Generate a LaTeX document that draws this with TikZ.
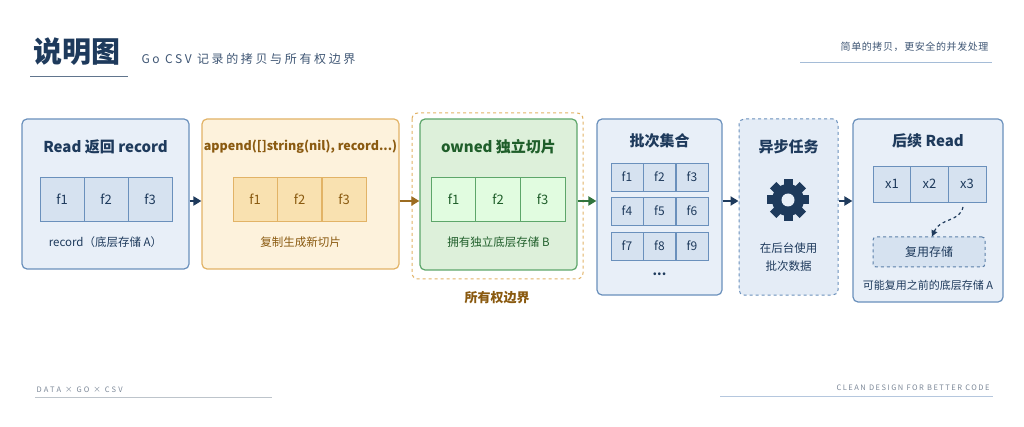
\documentclass[tikz,border=0pt]{standalone}
\usepackage{fontspec}
\setmainfont{Noto Sans CJK SC}
\usetikzlibrary{arrows.meta}
\definecolor{navy}{HTML}{1E3A5C}
\definecolor{bborder}{HTML}{6A90BC}
\definecolor{bfill}{HTML}{E8EFF8}
\definecolor{cfill}{HTML}{D6E2F0}
\definecolor{oborder}{HTML}{E2B366}
\definecolor{ofill}{HTML}{FDF2DC}
\definecolor{ocell}{HTML}{F9E1B0}
\definecolor{otext}{HTML}{8A5A10}
\definecolor{gborder}{HTML}{5DA66A}
\definecolor{gfill}{HTML}{DDF0DA}
\definecolor{gtext}{HTML}{1F5E2A}
\definecolor{grey}{HTML}{7C8898}
\tikzset{
 panel/.style={draw=#1,line width=1.2pt,rounded corners=5pt},
 cell/.style={draw=#1,line width=0.7pt,minimum height=44pt,minimum width=44pt,inner sep=0pt,font=\fontsize{13}{13}\selectfont},
 ttl/.style={font=\fontsize{15}{15}\selectfont\bfseries},
 lbl/.style={font=\fontsize{11.5}{12}\selectfont},
 arr/.style={-{Triangle[length=8pt,width=9pt]},line width=2.2pt,draw=#1},
 g/.style={cell=bborder,fill=cfill,minimum height=28pt,minimum width=32.3pt,font=\fontsize{12}{12}\selectfont,text=navy}
}
\begin{document}
\begin{tikzpicture}[x=1pt,y=-1pt]
\useasboundingbox[fill=white] (0,0) rectangle (1024,427);
% header
\node[anchor=west,font=\fontsize{29}{29}\selectfont\bfseries,text=navy] (title) at (30,52) {说明图};
\node[anchor=west,font=\fontsize{12}{12}\selectfont,text=navy!85] (sub) at (138,59) {\addfontfeature{LetterSpace=22}Go CSV 记录的拷贝与所有权边界};
\draw[navy!70,line width=1pt] (30,77) -- (128,77);
\node[anchor=east,font=\fontsize{10}{10}\selectfont,text=navy!85] (tr) at (992,47) {\addfontfeature{LetterSpace=6}简单的拷贝，更安全的并发处理};
\draw[bborder!60,line width=0.8pt] (800,62) -- (992,62);
% box1
\node[panel=bborder,fill=bfill,minimum width=167pt,minimum height=150pt] (b1) at (105.5,194) {};
\node[ttl,text=navy] (t1) at (105.5,147) {Read 返回 record};
\node[cell=bborder,fill=cfill,text=navy] (a1) at (62,199) {f1};
\node[cell=bborder,fill=cfill,text=navy] (a2) at (106,199) {f2};
\node[cell=bborder,fill=cfill,text=navy] (a3) at (150,199) {f3};
\node[lbl,text=navy] (l1) at (105.5,242) {record（底层存储 A）};
% box2
\node[panel=oborder,fill=ofill,minimum width=197pt,minimum height=150pt] (b2) at (300.5,194) {};
\node[text=otext,font=\fontsize{12.5}{13}\selectfont\bfseries] (t2) at (300.5,147) {append([]string(nil), record...)};
\node[cell=oborder,fill=ocell,text=otext] (c1) at (255,199) {f1};
\node[cell=oborder,fill=ocell,text=otext] (c2) at (299.5,199) {f2};
\node[cell=oborder,fill=ocell,text=otext] (c3) at (344,199) {f3};
\node[lbl,text=otext] (l2) at (300.5,242) {复制生成新切片};
% box3
\draw[oborder,dashed,line width=1pt,rounded corners=6pt] (412,113) rectangle (583,279);
\node[panel=gborder,fill=gfill,minimum width=157pt,minimum height=151pt] (b3) at (498.5,194.5) {};
\node[ttl,text=gtext] (t3) at (498.5,147) {owned 独立切片};
\node[cell=gborder,fill=gfill!70!green!30,text=gtext,minimum width=44.7pt] (d1) at (453.5,199) {f1};
\node[cell=gborder,fill=gfill!70!green!30,text=gtext,minimum width=44.7pt] (d2) at (498,199) {f2};
\node[cell=gborder,fill=gfill!70!green!30,text=gtext,minimum width=44.7pt] (d3) at (542.5,199) {f3};
\node[lbl,text=gtext] (l3) at (498.5,242) {拥有独立底层存储 B};
\node[font=\fontsize{13}{13}\selectfont\bfseries,text=otext] (own) at (497,298) {所有权边界};
% box4
\node[panel=bborder,fill=bfill,minimum width=125pt,minimum height=176pt] (b4) at (659.5,207) {};
\node[ttl,text=navy] (t4) at (659.5,141) {批次集合};
\foreach \r/\y in {0/177,1/211,2/246}{
 \foreach \c/\x in {1/627,2/659.5,3/692}{
  \pgfmathtruncatemacro\n{\r*3+\c}
  \node[g] (e\n) at (\x,\y) {f\n};
 }}
\node[font=\fontsize{13}{13}\selectfont\bfseries,text=navy] (dots) at (659.5,274) {...};
% box5
\node[draw=bborder,dashed,line width=1pt,rounded corners=5pt,fill=bfill!80!cfill,minimum width=99pt,minimum height=176pt] (b5) at (788.5,207) {};
\node[ttl,text=navy] (t5) at (788.5,147) {异步任务};
\begin{scope}[shift={(788,200)}]
 \foreach \a in {0,45,...,315}{\fill[navy,rotate=\a] (-4.5,-21) rectangle (4.5,-12);}
 \fill[navy] (0,0) circle (16);
 \fill[bfill] (0,0) circle (6.5);
\end{scope}
\node[lbl,text=navy] (l5a) at (788.5,248) {在后台使用};
\node[lbl,text=navy] (l5b) at (788.5,266) {批次数据};
% box6
\node[panel=bborder,fill=bfill,minimum width=150pt,minimum height=183pt] (b6) at (928,210.5) {};
\node[ttl,text=navy] (t6) at (928,141) {后续 Read};
\node[cell=bborder,fill=cfill,text=navy,minimum width=37.7pt,minimum height=36pt] (x1) at (892,184) {x1};
\node[cell=bborder,fill=cfill,text=navy,minimum width=37.7pt,minimum height=36pt] (x2) at (929.5,184) {x2};
\node[cell=bborder,fill=cfill,text=navy,minimum width=37.7pt,minimum height=36pt] (x3) at (967,184) {x3};
\node[draw=bborder!80!navy,dashed,line width=1pt,rounded corners=3pt,fill=cfill,minimum width=112pt,minimum height=30pt,font=\fontsize{12}{12}\selectfont,text=navy] (reuse) at (929,252) {复用存储};
\coordinate (cs) at (963,207);
\draw[dashed,navy,line width=1.2pt,-{Triangle[length=6pt,width=6pt]}] (cs) .. controls (960,222) and (940,218) .. (reuse.north-|932,0);
\node[font=\fontsize{11}{11}\selectfont,text=navy] (l6) at (928,285) {可能复用之前的底层存储 A};
% arrows
\draw[arr=navy] (b1.east|-0,201) -- (b2.west|-0,201);
\draw[arr=otext!80!oborder] (b2.east|-0,201) -- (b3.west|-0,201);
\draw[arr=gtext!70!gborder] (b3.east|-0,201) -- (b4.west|-0,201);
\draw[arr=navy] (b4.east|-0,201) -- (b5.west|-0,201);
\draw[arr=navy] (b5.east|-0,201) -- (b6.west|-0,201);
% footer
\node[anchor=west,font=\fontsize{7.5}{7.5}\selectfont,text=grey] (fl) at (33,390) {\addfontfeature{LetterSpace=30}DATA × GO × CSV};
\draw[grey!50,line width=0.6pt] (35,397) -- (272,397);
\node[anchor=east,font=\fontsize{7.5}{7.5}\selectfont,text=grey] (fr) at (993,388) {\addfontfeature{LetterSpace=20}CLEAN DESIGN FOR BETTER CODE};
\draw[bborder!50,line width=0.8pt] (720,396) -- (993,396);
\end{tikzpicture}
\end{document}
